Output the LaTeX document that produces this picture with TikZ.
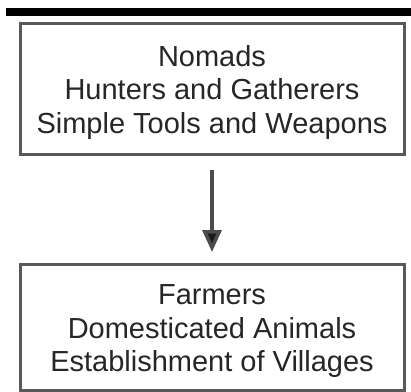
\documentclass[tikz,border=0pt]{standalone}
\usepackage{fontspec}
\setmainfont{Liberation Sans}
\usetikzlibrary{arrows.meta}
\begin{document}
\begin{tikzpicture}[x=1pt,y=-1pt,
  stagebox/.style={draw=black!65,line width=3pt,minimum width=384pt,inner sep=0pt,anchor=north},
  stagetext/.style={align=center,font=\fontsize{29}{33.5}\selectfont,text=black!85,inner sep=0pt},
  flow/.style={draw=black!70,line width=3.5pt,-{Triangle[length=22pt,width=19pt,fill=black!90]}}]
\useasboundingbox (0,0) rectangle (411,391);
\fill[black] (6,8) rectangle (411,16);
\node[stagebox,minimum height=131pt] (nomads) at (212,22) {};
\node[stagetext,yshift=-3pt] (nomadstext) at (nomads.center) {Nomads\\Hunters and Gatherers\\Simple Tools and Weapons};
\node[stagebox,minimum height=126pt] (farmers) at (212,263) {};
\node[stagetext,yshift=-4pt] (farmerstext) at (farmers.center) {Farmers\\Domesticated Animals\\Establishment of Villages};
\draw[flow] ([yshift=-14pt]nomads.south) -- ([yshift=11pt]farmers.north);
\end{tikzpicture}
\end{document}
